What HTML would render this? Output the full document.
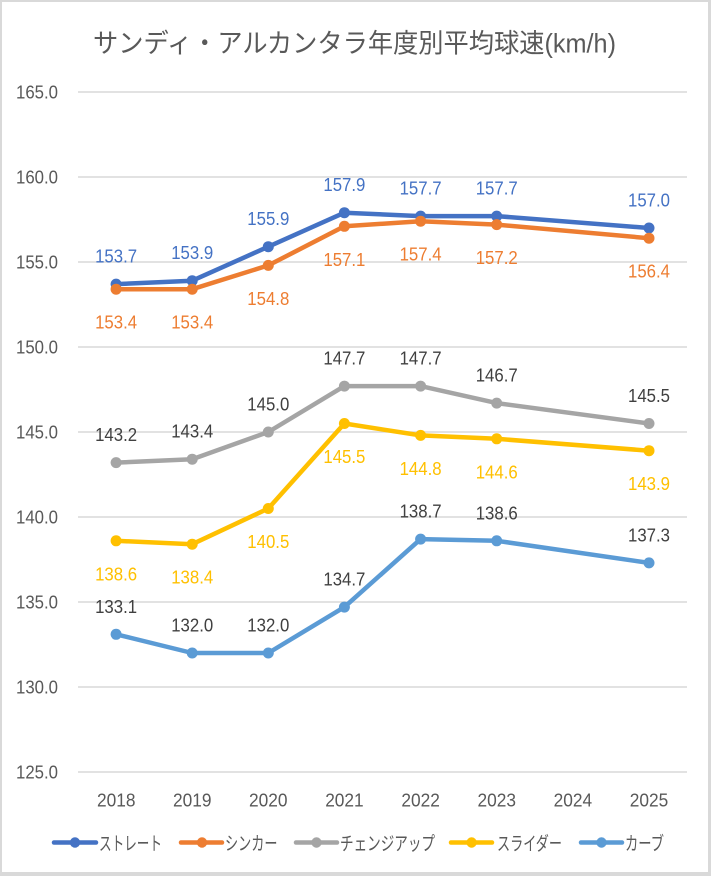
<!DOCTYPE html>
<html>
<head>
<meta charset="utf-8">
<style>
html,body{margin:0;padding:0;background:#d9d9d9;}
svg{display:block;}
</style>
</head>
<body>
<svg width="711" height="876" viewBox="0 0 711 876" xmlns="http://www.w3.org/2000/svg">
<rect x="0" y="0" width="711" height="876" fill="#d9d9d9"/>
<rect x="2" y="2" width="706" height="870" fill="#ffffff"/>

<!-- Title -->
<text x="93" y="52.5" font-family="'Liberation Sans','Noto Sans CJK JP',sans-serif" font-size="26.5" fill="#595959" textLength="523" lengthAdjust="spacingAndGlyphs">サンディ・アルカンタラ年度別平均球速(km/h)</text>

<!-- Gridlines -->
<g stroke="#d9d9d9" stroke-width="1.5">
<line x1="78" y1="92" x2="687" y2="92"/>
<line x1="78" y1="177" x2="687" y2="177"/>
<line x1="78" y1="262" x2="687" y2="262"/>
<line x1="78" y1="347" x2="687" y2="347"/>
<line x1="78" y1="432" x2="687" y2="432"/>
<line x1="78" y1="517" x2="687" y2="517"/>
<line x1="78" y1="602" x2="687" y2="602"/>
<line x1="78" y1="687" x2="687" y2="687"/>
<line x1="78" y1="772" x2="687" y2="772"/>
</g>

<!-- Y tick labels -->
<g font-family="'Liberation Sans',sans-serif" font-size="18" fill="#595959">
<text x="16" y="98.5" textLength="42" lengthAdjust="spacingAndGlyphs">165.0</text>
<text x="16" y="183.5" textLength="42" lengthAdjust="spacingAndGlyphs">160.0</text>
<text x="16" y="268.5" textLength="42" lengthAdjust="spacingAndGlyphs">155.0</text>
<text x="16" y="353.5" textLength="42" lengthAdjust="spacingAndGlyphs">150.0</text>
<text x="16" y="438.5" textLength="42" lengthAdjust="spacingAndGlyphs">145.0</text>
<text x="16" y="523.5" textLength="42" lengthAdjust="spacingAndGlyphs">140.0</text>
<text x="16" y="608.5" textLength="42" lengthAdjust="spacingAndGlyphs">135.0</text>
<text x="16" y="693.5" textLength="42" lengthAdjust="spacingAndGlyphs">130.0</text>
<text x="16" y="778.5" textLength="42" lengthAdjust="spacingAndGlyphs">125.0</text>
</g>

<!-- X labels -->
<g font-family="'Liberation Sans',sans-serif" font-size="18" fill="#595959">
<text x="97" y="806.5" textLength="38.5" lengthAdjust="spacingAndGlyphs">2018</text>
<text x="173" y="806.5" textLength="38.5" lengthAdjust="spacingAndGlyphs">2019</text>
<text x="249" y="806.5" textLength="38.5" lengthAdjust="spacingAndGlyphs">2020</text>
<text x="325.2" y="806.5" textLength="38.5" lengthAdjust="spacingAndGlyphs">2021</text>
<text x="401.4" y="806.5" textLength="38.5" lengthAdjust="spacingAndGlyphs">2022</text>
<text x="477.5" y="806.5" textLength="38.5" lengthAdjust="spacingAndGlyphs">2023</text>
<text x="553.6" y="806.5" textLength="38.5" lengthAdjust="spacingAndGlyphs">2024</text>
<text x="629.8" y="806.5" textLength="38.5" lengthAdjust="spacingAndGlyphs">2025</text>
</g>

<!-- Series: Straight -->
<g stroke="#4472C4" fill="#4472C4">
<polyline fill="none" stroke-width="4.5" stroke-linejoin="round" stroke-linecap="round" points="116.1,284.1 192.2,280.7 268.3,246.7 344.4,212.7 420.6,216.1 496.7,216.1 649.0,228"/>
<g stroke="none">
<circle cx="116.1" cy="284.1" r="5.5"/><circle cx="192.2" cy="280.7" r="5.5"/><circle cx="268.3" cy="246.7" r="5.5"/><circle cx="344.4" cy="212.7" r="5.5"/><circle cx="420.6" cy="216.1" r="5.5"/><circle cx="496.7" cy="216.1" r="5.5"/><circle cx="649.0" cy="228" r="5.5"/>
</g>
</g>

<!-- Series: Sinker -->
<g stroke="#ED7D31" fill="#ED7D31">
<polyline fill="none" stroke-width="4.5" stroke-linejoin="round" stroke-linecap="round" points="116.1,289.2 192.2,289.2 268.3,265.4 344.4,226.3 420.6,221.2 496.7,224.6 649.0,238.2"/>
<g stroke="none">
<circle cx="116.1" cy="289.2" r="5.5"/><circle cx="192.2" cy="289.2" r="5.5"/><circle cx="268.3" cy="265.4" r="5.5"/><circle cx="344.4" cy="226.3" r="5.5"/><circle cx="420.6" cy="221.2" r="5.5"/><circle cx="496.7" cy="224.6" r="5.5"/><circle cx="649.0" cy="238.2" r="5.5"/>
</g>
</g>

<!-- Series: Changeup -->
<g stroke="#A5A5A5" fill="#A5A5A5">
<polyline fill="none" stroke-width="4.5" stroke-linejoin="round" stroke-linecap="round" points="116.1,462.6 192.2,459.2 268.3,432 344.4,386.1 420.6,386.1 496.7,403.1 649.0,423.5"/>
<g stroke="none">
<circle cx="116.1" cy="462.6" r="5.5"/><circle cx="192.2" cy="459.2" r="5.5"/><circle cx="268.3" cy="432" r="5.5"/><circle cx="344.4" cy="386.1" r="5.5"/><circle cx="420.6" cy="386.1" r="5.5"/><circle cx="496.7" cy="403.1" r="5.5"/><circle cx="649.0" cy="423.5" r="5.5"/>
</g>
</g>

<!-- Series: Slider -->
<g stroke="#FFC000" fill="#FFC000">
<polyline fill="none" stroke-width="4.5" stroke-linejoin="round" stroke-linecap="round" points="116.1,540.8 192.2,544.2 268.3,508.5 344.4,423.5 420.6,435.4 496.7,438.8 649.0,450.7"/>
<g stroke="none">
<circle cx="116.1" cy="540.8" r="5.5"/><circle cx="192.2" cy="544.2" r="5.5"/><circle cx="268.3" cy="508.5" r="5.5"/><circle cx="344.4" cy="423.5" r="5.5"/><circle cx="420.6" cy="435.4" r="5.5"/><circle cx="496.7" cy="438.8" r="5.5"/><circle cx="649.0" cy="450.7" r="5.5"/>
</g>
</g>

<!-- Series: Curve -->
<g stroke="#5B9BD5" fill="#5B9BD5">
<polyline fill="none" stroke-width="4.5" stroke-linejoin="round" stroke-linecap="round" points="116.1,634.3 192.2,653 268.3,653 344.4,607.1 420.6,539.1 496.7,540.8 649.0,562.9"/>
<g stroke="none">
<circle cx="116.1" cy="634.3" r="5.5"/><circle cx="192.2" cy="653" r="5.5"/><circle cx="268.3" cy="653" r="5.5"/><circle cx="344.4" cy="607.1" r="5.5"/><circle cx="420.6" cy="539.1" r="5.5"/><circle cx="496.7" cy="540.8" r="5.5"/><circle cx="649.0" cy="562.9" r="5.5"/>
</g>
</g>

<!-- Data labels -->
<g font-family="'Liberation Sans',sans-serif" font-size="18" text-anchor="middle">
<g fill="#4472C4">
<text x="116.1" y="262.6" textLength="42" lengthAdjust="spacingAndGlyphs">153.7</text>
<text x="192.2" y="259.2" textLength="42" lengthAdjust="spacingAndGlyphs">153.9</text>
<text x="268.3" y="225.2" textLength="42" lengthAdjust="spacingAndGlyphs">155.9</text>
<text x="344.4" y="191.2" textLength="42" lengthAdjust="spacingAndGlyphs">157.9</text>
<text x="420.6" y="194.6" textLength="42" lengthAdjust="spacingAndGlyphs">157.7</text>
<text x="496.7" y="194.6" textLength="42" lengthAdjust="spacingAndGlyphs">157.7</text>
<text x="649.0" y="206.5" textLength="42" lengthAdjust="spacingAndGlyphs">157.0</text>
</g>
<g fill="#ED7D31">
<text x="116.1" y="328.7" textLength="42" lengthAdjust="spacingAndGlyphs">153.4</text>
<text x="192.2" y="328.7" textLength="42" lengthAdjust="spacingAndGlyphs">153.4</text>
<text x="268.3" y="304.9" textLength="42" lengthAdjust="spacingAndGlyphs">154.8</text>
<text x="344.4" y="265.8" textLength="42" lengthAdjust="spacingAndGlyphs">157.1</text>
<text x="420.6" y="260.7" textLength="42" lengthAdjust="spacingAndGlyphs">157.4</text>
<text x="496.7" y="264.1" textLength="42" lengthAdjust="spacingAndGlyphs">157.2</text>
<text x="649.0" y="277.7" textLength="42" lengthAdjust="spacingAndGlyphs">156.4</text>
</g>
<g fill="#404040">
<text x="116.1" y="441.1" textLength="42" lengthAdjust="spacingAndGlyphs">143.2</text>
<text x="192.2" y="437.7" textLength="42" lengthAdjust="spacingAndGlyphs">143.4</text>
<text x="268.3" y="410.5" textLength="42" lengthAdjust="spacingAndGlyphs">145.0</text>
<text x="344.4" y="364.6" textLength="42" lengthAdjust="spacingAndGlyphs">147.7</text>
<text x="420.6" y="364.6" textLength="42" lengthAdjust="spacingAndGlyphs">147.7</text>
<text x="496.7" y="381.6" textLength="42" lengthAdjust="spacingAndGlyphs">146.7</text>
<text x="649.0" y="402" textLength="42" lengthAdjust="spacingAndGlyphs">145.5</text>
</g>
<g fill="#FFC000">
<text x="116.1" y="580.3" textLength="42" lengthAdjust="spacingAndGlyphs">138.6</text>
<text x="192.2" y="583.7" textLength="42" lengthAdjust="spacingAndGlyphs">138.4</text>
<text x="268.3" y="548" textLength="42" lengthAdjust="spacingAndGlyphs">140.5</text>
<text x="344.4" y="463" textLength="42" lengthAdjust="spacingAndGlyphs">145.5</text>
<text x="420.6" y="474.9" textLength="42" lengthAdjust="spacingAndGlyphs">144.8</text>
<text x="496.7" y="478.3" textLength="42" lengthAdjust="spacingAndGlyphs">144.6</text>
<text x="649.0" y="490.2" textLength="42" lengthAdjust="spacingAndGlyphs">143.9</text>
</g>
<g fill="#404040">
<text x="116.1" y="612.8" textLength="42" lengthAdjust="spacingAndGlyphs">133.1</text>
<text x="192.2" y="631.5" textLength="42" lengthAdjust="spacingAndGlyphs">132.0</text>
<text x="268.3" y="631.5" textLength="42" lengthAdjust="spacingAndGlyphs">132.0</text>
<text x="344.4" y="585.6" textLength="42" lengthAdjust="spacingAndGlyphs">134.7</text>
<text x="420.6" y="517.6" textLength="42" lengthAdjust="spacingAndGlyphs">138.7</text>
<text x="496.7" y="519.3" textLength="42" lengthAdjust="spacingAndGlyphs">138.6</text>
<text x="649.0" y="541.4" textLength="42" lengthAdjust="spacingAndGlyphs">137.3</text>
</g>
</g>

<!-- Legend -->
<g stroke-width="4.5" stroke-linecap="round">
<line x1="54" y1="842.5" x2="96" y2="842.5" stroke="#4472C4"/>
<line x1="181" y1="842.5" x2="222" y2="842.5" stroke="#ED7D31"/>
<line x1="296" y1="842.5" x2="337" y2="842.5" stroke="#A5A5A5"/>
<line x1="451" y1="842.5" x2="492" y2="842.5" stroke="#FFC000"/>
<line x1="581" y1="842.5" x2="622" y2="842.5" stroke="#5B9BD5"/>
</g>
<circle cx="75" cy="842.5" r="5.2" fill="#4472C4"/>
<circle cx="202" cy="842.5" r="5.2" fill="#ED7D31"/>
<circle cx="316.5" cy="842.5" r="5.2" fill="#A5A5A5"/>
<circle cx="471.6" cy="842.5" r="5.2" fill="#FFC000"/>
<circle cx="601.5" cy="842.5" r="5.2" fill="#5B9BD5"/>
<g font-family="'Liberation Sans','Noto Sans CJK JP',sans-serif" font-size="19" fill="#595959">
<text x="99" y="850" textLength="63" lengthAdjust="spacingAndGlyphs">ストレート</text>
<text x="225" y="850" textLength="52.5" lengthAdjust="spacingAndGlyphs">シンカー</text>
<text x="340" y="850" textLength="95" lengthAdjust="spacingAndGlyphs">チェンジアップ</text>
<text x="497" y="850" textLength="65" lengthAdjust="spacingAndGlyphs">スライダー</text>
<text x="625" y="850" textLength="39" lengthAdjust="spacingAndGlyphs">カーブ</text>
</g>
</svg>
</body>
</html>
